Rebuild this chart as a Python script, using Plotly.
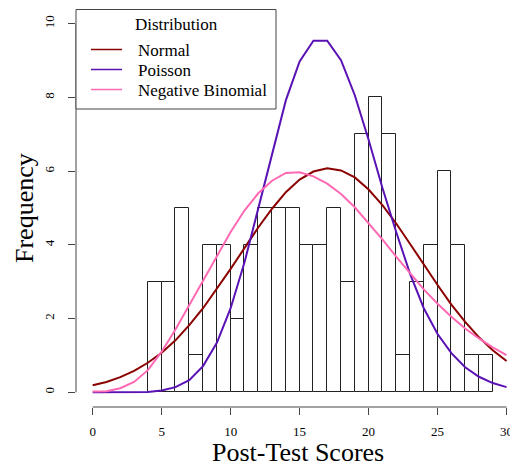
import plotly.graph_objects as go

# Histogram: bins of width 1 (left edges) and their counts
bin_left = list(range(4, 29))
counts = [3, 3, 5, 1, 4, 4, 2, 4, 5, 5, 5, 4, 4, 5, 3, 7, 8, 7, 1, 3, 4, 6, 4, 1, 1]

# Fitted curves evaluated at integer scores 0..30
x_grid = list(range(0, 31))
normal_vals = [0.19, 0.28, 0.41, 0.58, 0.80, 1.07, 1.41, 1.82, 2.28, 2.80, 3.35,
               3.91, 4.47, 4.98, 5.43, 5.77, 5.99, 6.08, 6.02, 5.83, 5.50,
               5.08, 4.58, 4.03, 3.46, 2.91, 2.38, 1.91, 1.49, 1.14, 0.85]
poisson_vals = [0.00, 0.00, 0.00, 0.00, 0.01, 0.05, 0.14, 0.33, 0.71, 1.34, 2.28,
                3.52, 4.99, 6.52, 7.92, 8.98, 9.54, 9.54, 9.01, 8.06, 6.85,
                5.55, 4.35, 3.22, 2.28, 1.58, 1.06, 0.68, 0.42, 0.25, 0.14]
negbin_vals = [0.02, 0.03, 0.11, 0.28, 0.60, 1.10, 1.70, 2.36, 3.03, 3.70, 4.35,
               4.93, 5.40, 5.74, 5.95, 5.97, 5.86, 5.66, 5.38, 5.02, 4.60,
               4.15, 3.68, 3.22, 2.79, 2.40, 2.05, 1.73, 1.46, 1.22, 1.01]

series_names = ["Normal", "Poisson", "Negative Binomial"]
series_colors = ["#8B0000", "#5A12B4", "#FF69B4"]

x_ticks = [0, 5, 10, 15, 20, 25, 30]
y_ticks = [0, 2, 4, 6, 8, 10]

FONT = "Liberation Serif, Times New Roman, serif"

# the page body has an 8px default margin, so the figure is drawn 8px smaller
OFF = 8
W, H = 518 - OFF, 466 - OFF
L, R, T, B = 76 - OFF, 0, 1, 59
PW, PH = W - L - R, H - T - B


def px_x(p):
    return (p - OFF - L) / PW


def px_y(p):
    return (H - B - (p - OFF)) / PH


fig = go.Figure()
fig.add_trace(go.Bar(
    x=[b + 0.5 for b in bin_left], y=counts, width=1,
    marker=dict(color="white", line=dict(color="#222222", width=1)),
    showlegend=False, hoverinfo="skip"))
for name, vals, col in zip(series_names, [normal_vals, poisson_vals, negbin_vals], series_colors):
    fig.add_trace(go.Scatter(x=x_grid, y=vals, mode="lines", name=name,
                             line=dict(color=col, width=2), showlegend=False))

shapes = [
    dict(type="line", xref="paper", yref="y", x0=0, x1=0, y0=0, y1=10,
         line=dict(color="#444444", width=1)),
    dict(type="line", xref="x", yref="paper", x0=0, x1=30, y0=0, y1=0,
         line=dict(color="#444444", width=1)),
    dict(type="rect", xref="paper", yref="paper", x0=px_x(76), x1=px_x(276),
         y0=px_y(109), y1=px_y(9.5),
         line=dict(color="#444444", width=1), fillcolor="white", layer="above"),
]
annotations = [
    dict(text="Distribution", xref="paper", yref="paper", x=px_x(176), y=px_y(25),
         xanchor="center", yanchor="middle", showarrow=False,
         font=dict(family=FONT, size=17, color="black")),
    dict(text="Post-Test Scores", xref="paper", yref="paper", x=px_x(298), y=px_y(452),
         xanchor="center", yanchor="middle", showarrow=False, height=24,
         font=dict(family=FONT, size=26, color="black")),
    dict(text="Frequency", xref="paper", yref="paper", x=px_x(24), y=px_y(208),
         xanchor="center", yanchor="middle", showarrow=False, textangle=-90,
         font=dict(family=FONT, size=26, color="black")),
]
row_y = [49.5, 69.5, 89.5]
for name, col, ry in zip(series_names, series_colors, row_y):
    shapes.append(dict(type="line", xref="paper", yref="paper", x0=px_x(91), x1=px_x(122),
                       y0=px_y(ry), y1=px_y(ry), line=dict(color=col, width=1.5),
                       layer="above"))
    annotations.append(dict(text=name, xref="paper", yref="paper", x=px_x(136),
                            y=px_y(ry + 1), xanchor="left", yanchor="middle",
                            showarrow=False,
                            font=dict(family=FONT, size=17, color="black")))

fig.update_layout(
    width=W, height=H,
    margin=dict(l=L, r=R, t=T, b=B, autoexpand=False),
    plot_bgcolor="white", paper_bgcolor="white",
    font=dict(family=FONT, color="black"),
    bargap=0,
    showlegend=False,
    xaxis=dict(range=[-1.21, 30.83], tickvals=x_ticks, ticks="outside", ticklen=7,
               tickcolor="#444444", showline=False, showgrid=False, zeroline=False,
               automargin=False,
               tickfont=dict(family=FONT, size=13, color="black"),
               ticklabelstandoff=5),
    yaxis=dict(range=[-0.4, 10.4], tickvals=y_ticks, ticks="outside", ticklen=7,
               tickcolor="#444444", showline=False, showgrid=False, zeroline=False,
               automargin=False, tickangle=-90,
               tickfont=dict(family=FONT, size=13, color="black"),
               ticklabelstandoff=9),
    shapes=shapes,
    annotations=annotations,
)

fig.write_html("out.html")
